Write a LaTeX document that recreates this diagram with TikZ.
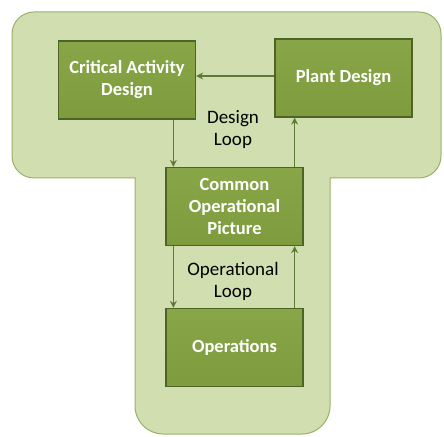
\documentclass[tikz,border=0pt]{standalone}
\usepackage{fontspec}
\setmainfont{Carlito}
\usetikzlibrary{arrows.meta,calc}
\definecolor{panelfill}{HTML}{D1DFB0}
\definecolor{paneledge}{HTML}{9BB06A}
\definecolor{boxfill}{HTML}{7E9C3D}
\definecolor{boxtop}{HTML}{88A647}
\definecolor{boxedge}{HTML}{4F6328}
\definecolor{flow}{HTML}{5E7B33}
\tikzset{
  stage/.style={rectangle, draw=boxedge, line width=1.3pt, top color=boxtop, bottom color=boxfill,
    text=white, font=\fontsize{18.5}{22}\selectfont\bfseries, align=center,
    minimum width=137pt, minimum height=78pt, inner sep=2pt},
  looplabel/.style={text=black, font=\fontsize{19}{22}\selectfont, align=center},
  flowarrow/.style={draw=flow, line width=1.6pt, -{Stealth[length=7pt,width=7pt]}}
}
\begin{document}
\begin{tikzpicture}[x=1pt,y=1pt]
  \useasboundingbox (0,0) rectangle (444,436);
  % T-shaped backdrop
  \draw[fill=panelfill, draw=paneledge, line width=1pt]
    (34,424) -- (419,424) arc[start angle=90,end angle=0,radius=22]
    -- (441,280) arc[start angle=0,end angle=-90,radius=22]
    -- (330,258) -- (330,30) arc[start angle=0,end angle=-90,radius=28]
    -- (163,2) arc[start angle=270,end angle=180,radius=28]
    -- (135,258) -- (34,258) arc[start angle=270,end angle=180,radius=22]
    -- (12,402) arc[start angle=180,end angle=90,radius=22] -- cycle;
  % stages
  \node[stage] (crit) at (127,356) {Critical Activity\\Design};
  \node[stage] (plant) at (343.5,358) {Plant Design};
  \node[stage] (cop) at (234.5,229.5) {Common\\Operational\\Picture};
  \node[stage] (ops) at (234.5,88.5) {Operations};
  % loop labels
  \node[looplabel] (dloop) at (233,307) {Design\\Loop};
  \node[looplabel] (oloop) at (233,155) {Operational\\Loop};
  % anchor points on the shared boxes
  \coordinate (copL) at ([xshift=8pt]cop.north west);
  \coordinate (copR) at ([xshift=-9pt]cop.north east);
  \coordinate (copLb) at ([xshift=8pt]cop.south west);
  \coordinate (copRb) at ([xshift=-9pt]cop.south east);
  \coordinate (plantIn) at ([yshift=2pt]plant.west);
  % connectors
  \draw[flowarrow] (plantIn) -- (plantIn -| crit.east);
  \draw[flowarrow] (copL |- crit.south) -- (copL);
  \draw[flowarrow] (copR) -- (copR |- plant.south);
  \draw[flowarrow] (copLb) -- (copLb |- ops.north);
  \draw[flowarrow] (copRb |- ops.north) -- (copRb);
\end{tikzpicture}
\end{document}
